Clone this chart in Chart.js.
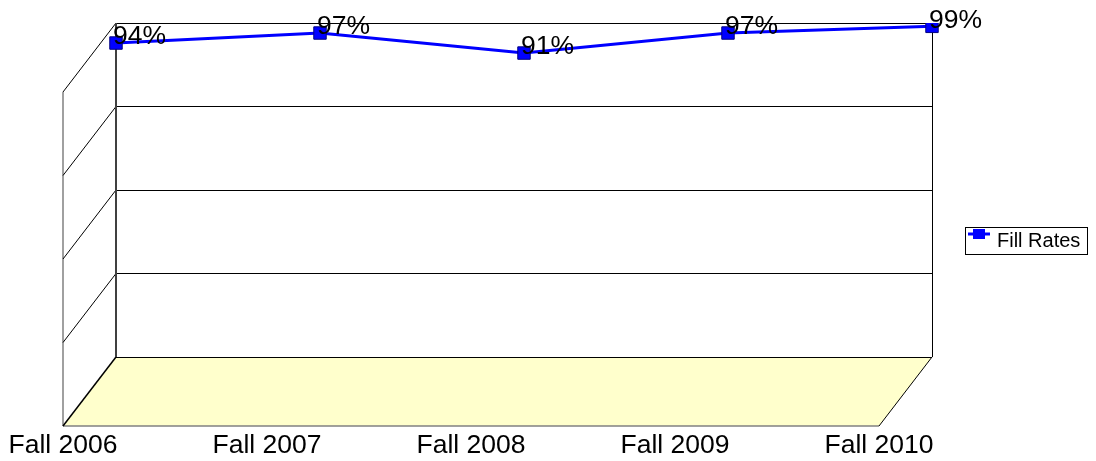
<!DOCTYPE html>
<html><head><meta charset="utf-8">
<script src="https://cdn.jsdelivr.net/npm/chart.js@4/dist/chart.umd.min.js"></script>
<style>html,body{margin:0;padding:0;background:#fff;overflow:hidden;}</style>
</head><body>
<canvas id="c" width="1096" height="461" style="display:block;width:1096px;height:461px"></canvas>
<script>
const categories = ['Fall 2006', 'Fall 2007', 'Fall 2008', 'Fall 2009', 'Fall 2010'];
const fillRates = [0.94, 0.97, 0.91, 0.97, 0.99];
const valueLabels = ['94%', '97%', '91%', '97%', '99%'];
const seriesName = 'Fill Rates';
const gridSteps = [0, 0.25, 0.5, 0.75, 1];

const DX = -53, DY = 69;
const FONT = '"Liberation Sans", Arial, sans-serif';

const threeD = {
  id: 'threeD',
  beforeDraw(chart) {
    const ctx = chart.ctx;
    const {left, right, top, bottom} = chart.chartArea;
    const ys = chart.scales.y;
    ctx.save();
    ctx.beginPath();
    ctx.moveTo(left, bottom);
    ctx.lineTo(right, bottom);
    ctx.lineTo(right + DX, bottom + DY);
    ctx.lineTo(left + DX, bottom + DY);
    ctx.closePath();
    ctx.fillStyle = '#FFFFCC';
    ctx.fill();
    ctx.strokeStyle = '#808080';
    ctx.lineWidth = 1.5;
    ctx.beginPath();
    ctx.moveTo(left + DX, bottom + DY);
    ctx.lineTo(right + DX, bottom + DY);
    ctx.stroke();
    ctx.strokeStyle = '#000';
    ctx.lineWidth = 1;
    ctx.beginPath();
    ctx.moveTo(right, bottom);
    ctx.lineTo(right + DX, bottom + DY);
    ctx.stroke();
    const yTop = ys.getPixelForValue(1);
    ctx.strokeStyle = '#808080';
    ctx.lineWidth = 1.5;
    ctx.beginPath();
    ctx.moveTo(left + DX, yTop + DY);
    ctx.lineTo(left + DX, bottom + DY);
    ctx.stroke();
    ctx.strokeStyle = '#000';
    gridSteps.forEach(v => {
      const py = ys.getPixelForValue(v);
      ctx.lineWidth = v === 0 ? 1.5 : 1;
      ctx.beginPath();
      ctx.moveTo(left + DX, py + DY);
      ctx.lineTo(left, py);
      ctx.stroke();
    });
    ctx.restore();
  },
  beforeDatasetsDraw(chart) {
    const ctx = chart.ctx;
    const {left, right, top, bottom} = chart.chartArea;
    ctx.save();
    ctx.strokeStyle = '#404040';
    ctx.lineWidth = 2;
    ctx.beginPath();
    ctx.moveTo(left, top);
    ctx.lineTo(left, bottom);
    ctx.stroke();
    ctx.strokeStyle = '#000';
    ctx.lineWidth = 1;
    ctx.beginPath();
    ctx.moveTo(Math.round(right) + 0.5, top);
    ctx.lineTo(Math.round(right) + 0.5, bottom);
    ctx.stroke();
    ctx.restore();
  },
  afterDatasetsDraw(chart) {
    const ctx = chart.ctx;
    const meta = chart.getDatasetMeta(0);
    ctx.save();
    ctx.fillStyle = '#000';
    ctx.font = '26.5px ' + FONT;
    ctx.textAlign = 'left';
    ctx.textBaseline = 'middle';
    meta.data.forEach((pt, i) => {
      ctx.fillText(valueLabels[i], pt.x - 3, pt.y - 6);
    });
    const ds = chart.data.datasets[0];
    ctx.strokeStyle = '#000';
    ctx.lineWidth = 1;
    ctx.strokeRect(965.5, 227.5, 122, 27);
    ctx.strokeStyle = ds.borderColor;
    ctx.lineWidth = 3;
    ctx.beginPath();
    ctx.moveTo(968, 234);
    ctx.lineTo(990, 234);
    ctx.stroke();
    ctx.fillStyle = ds.pointBackgroundColor;
    ctx.fillRect(973, 229, 12, 10);
    ctx.fillStyle = '#000';
    ctx.font = '20px ' + FONT;
    ctx.textBaseline = 'middle';
    ctx.fillText(ds.label, 997, 241);
    ctx.restore();
  }
};

new Chart(document.getElementById('c'), {
  type: 'line',
  data: {
    labels: categories,
    datasets: [{
      label: seriesName,
      data: fillRates,
      borderColor: '#0000FF',
      borderWidth: 3,
      backgroundColor: '#0000FF',
      pointStyle: 'rect',
      pointRadius: 8.8,
      pointBackgroundColor: '#0000FF',
      pointBorderColor: '#000080',
      pointBorderWidth: 1,
      tension: 0,
      fill: false
    }]
  },
  options: {
    responsive: false,
    animation: false,
    layout: { padding: { left: 116, right: 164, top: 23, bottom: 1 } },
    plugins: { legend: { display: false }, tooltip: { enabled: false } },
    scales: {
      x: {
        offset: false,
        grid: { display: false },
        border: { display: false },
        ticks: {
          color: '#000',
          font: { family: FONT, size: 26.5 },
          padding: 65,
          labelOffset: DX,
          autoSkip: false,
          maxRotation: 0
        },
        afterFit(scale) {
          scale.height = 103;
          scale.paddingLeft = 0;
          scale.paddingRight = 0;
        }
      },
      y: {
        min: 0, max: 1,
        afterBuildTicks(scale) { scale.ticks = gridSteps.map(v => ({ value: v })); },
        ticks: { display: false },
        grid: { drawTicks: false, color: '#000', lineWidth: 1 },
        border: { display: false },
        afterFit(scale) { scale.width = 0; }
      }
    }
  },
  plugins: [threeD]
});
</script>
</body></html>
